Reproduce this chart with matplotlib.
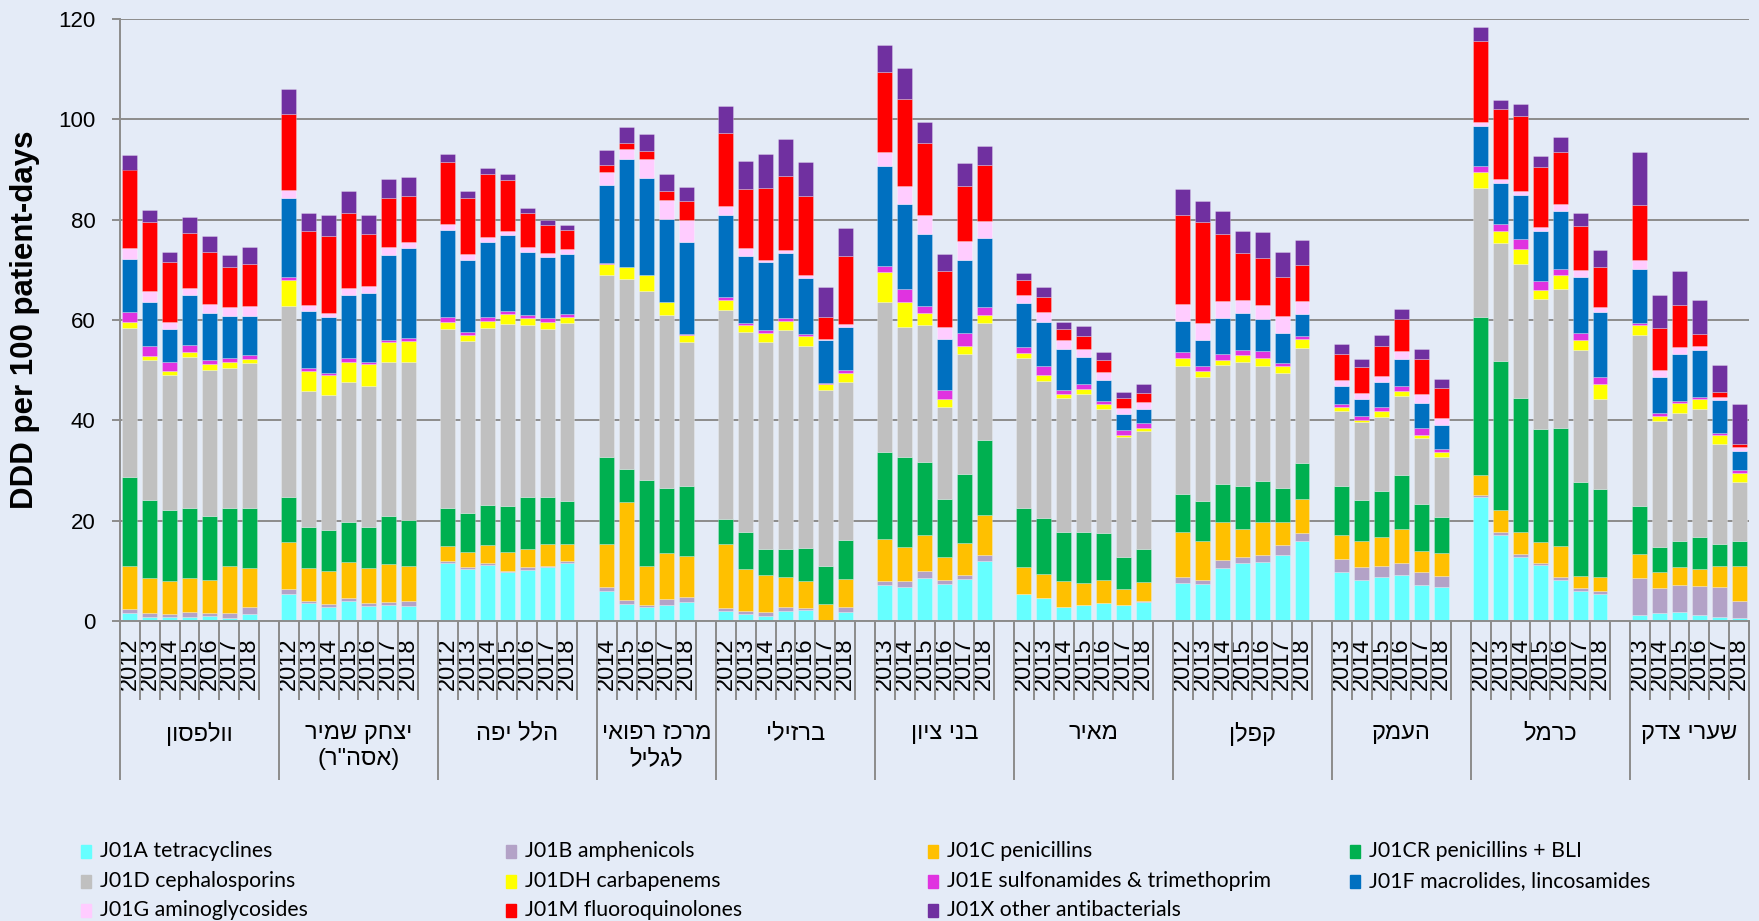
"""Antibacterial use (DDD per 100 patient-days) by hospital and year, stacked by ATC class."""
import numpy as np
import matplotlib; matplotlib.use("Agg"); import matplotlib.pyplot as plt
from matplotlib.patches import Rectangle

W, H = 1759, 921
GREY = "#8C8C8C"
HEB = ["Liberation Sans", "DejaVu Sans"]

# hospitals (logical Hebrew order) and the first year shown for each (all run to 2018)
hospitals = ["וולפסון", "יצחק שמיר\n(אסה\"ר)", "הלל יפה", "מרכז רפואי\nלגליל", "ברזילי",
             "בני ציון", "מאיר", "קפלן", "העמק", "כרמל", "שערי צדק"]
first_year = [2012, 2012, 2012, 2014, 2012, 2013, 2012, 2012, 2013, 2012, 2013]

classes = ["J01A tetracyclines", "J01B amphenicols", "J01C penicillins", "J01CR penicillins + BLI",
           "J01D cephalosporins", "J01DH carbapenems", "J01E sulfonamides & trimethoprim",
           "J01F macrolides, lincosamides", "J01G aminoglycosides", "J01M fluoroquinolones",
           "J01X other antibacterials"]
colors = ["#66FFFF", "#B3A2C7", "#FFC000", "#00B050", "#C0C0C0", "#FFFF00",
          "#E033E0", "#0070C0", "#FFCCFF", "#FF0000", "#7030A0"]

# one value per bar, hospitals in the order above, one line per hospital
J01A = [1.6, 0.8, 0.8, 0.8, 0.9, 0.6, 1.3,
        5.3, 3.5, 2.7, 4.0, 3.0, 3.1, 3.0,
        11.6, 10.4, 11.2, 9.7, 10.2, 10.7, 11.6,
        5.9, 3.4, 2.7, 3.2, 3.7,
        1.9, 1.3, 0.9, 2.0, 2.1, 0.0, 1.7,
        7.1, 6.7, 8.6, 7.3, 8.3, 11.9,
        5.3, 4.5, 2.7, 3.2, 3.5, 3.2, 3.7,
        7.6, 7.3, 10.6, 11.6, 11.7, 13.1, 16.0,
        9.7, 8.1, 8.7, 9.1, 7.2, 6.7,
        24.8, 17.1, 12.8, 11.2, 8.2, 6.0, 5.3,
        1.2, 1.5, 1.8, 1.1, 0.7, 0.5]
J01B = [0.7, 0.7, 0.6, 1.0, 0.7, 0.9, 1.4,
        1.0, 0.4, 0.7, 0.5, 0.6, 0.7, 1.0,
        0.3, 0.3, 0.3, 0.3, 0.5, 0.3, 0.3,
        0.8, 0.7, 0.5, 1.2, 1.0,
        0.7, 0.7, 0.9, 0.7, 0.5, 0.0, 1.0,
        0.9, 1.2, 1.3, 0.8, 0.8, 1.2,
        0.0, 0.0, 0.0, 0.0, 0.0, 0.0, 0.3,
        1.2, 0.9, 1.6, 1.2, 1.4, 2.0, 1.6,
        2.6, 2.7, 2.2, 2.4, 2.5, 2.3,
        0.4, 0.6, 0.5, 0.3, 0.6, 0.5, 0.6,
        7.3, 5.1, 5.3, 5.9, 6.0, 3.4]
J01C = [8.7, 7.1, 6.6, 6.7, 6.6, 9.5, 7.9,
        9.4, 6.6, 6.6, 7.2, 7.0, 7.6, 7.0,
        3.0, 3.0, 3.6, 3.8, 3.6, 4.3, 3.5,
        8.6, 19.6, 7.8, 9.2, 8.3,
        12.7, 8.3, 7.4, 6.1, 5.3, 3.4, 5.7,
        8.3, 6.8, 7.2, 4.7, 6.5, 8.1,
        5.5, 4.8, 5.2, 4.4, 4.6, 3.1, 3.8,
        9.0, 7.8, 7.5, 5.6, 6.6, 4.7, 6.8,
        4.9, 5.1, 5.9, 6.8, 4.3, 4.6,
        3.9, 4.5, 4.4, 4.3, 6.2, 2.5, 2.9,
        4.9, 3.1, 3.7, 3.4, 4.2, 7.0]
J01CR = [17.7, 15.6, 14.1, 14.1, 12.7, 11.6, 11.9,
         9.1, 8.3, 8.1, 8.1, 8.1, 9.5, 9.2,
         7.6, 7.9, 8.1, 9.1, 10.5, 9.5, 8.5,
         17.3, 6.5, 17.1, 13.0, 14.0,
         5.1, 7.4, 5.1, 5.5, 6.6, 7.6, 7.7,
         17.4, 17.9, 14.6, 11.6, 13.8, 14.8,
         11.8, 11.3, 9.8, 10.1, 9.4, 6.4, 6.6,
         7.6, 8.0, 7.7, 8.6, 8.3, 6.8, 7.0,
         9.7, 8.2, 9.2, 10.8, 9.4, 7.2,
         31.5, 29.7, 26.8, 22.4, 23.4, 18.8, 17.6,
         9.5, 5.0, 5.1, 6.3, 4.5, 5.0]
J01D = [29.8, 27.8, 26.9, 30.1, 29.1, 27.9, 28.9,
        37.9, 27.0, 27.0, 27.9, 28.1, 30.8, 31.4,
        35.7, 34.3, 35.3, 36.4, 34.3, 33.5, 35.6,
        36.3, 38.0, 37.6, 34.3, 28.7,
        41.6, 39.9, 41.3, 43.8, 40.4, 35.0, 31.6,
        29.9, 26.1, 27.3, 18.3, 23.9, 23.5,
        29.8, 27.3, 26.8, 27.6, 24.8, 23.9, 23.4,
        25.4, 24.6, 23.6, 24.6, 22.9, 22.9, 23.1,
        15.0, 15.5, 14.7, 15.8, 13.0, 11.9,
        25.7, 23.4, 26.6, 26.0, 27.7, 26.3, 17.8,
        34.2, 25.1, 25.6, 25.6, 19.9, 11.9]
J01DH = [1.1, 0.9, 0.9, 1.0, 1.2, 1.1, 0.9,
         5.3, 4.1, 4.0, 3.9, 4.4, 3.9, 4.2,
         1.4, 1.2, 1.3, 1.8, 1.3, 1.4, 1.0,
         2.3, 2.3, 3.2, 2.6, 1.4,
         1.9, 1.5, 1.8, 1.8, 1.9, 1.3, 1.8,
         5.9, 4.9, 2.3, 1.5, 1.5, 1.4,
         1.0, 1.1, 0.7, 1.0, 0.9, 0.5, 0.6,
         1.6, 1.2, 1.1, 1.4, 1.6, 1.3, 1.7,
         0.8, 0.4, 1.2, 1.0, 0.7, 0.9,
         3.2, 2.4, 3.0, 1.8, 2.8, 2.0, 3.1,
         1.9, 1.1, 1.9, 1.9, 1.8, 1.8]
J01E = [1.9, 1.9, 1.7, 1.3, 0.9, 0.9, 0.7,
        0.5, 0.5, 0.4, 0.8, 0.4, 0.5, 0.6,
        1.0, 0.5, 0.8, 0.7, 0.5, 0.7, 0.6,
        0.1, 0.1, 0.1, 0.1, 0.1,
        0.6, 0.4, 0.7, 0.5, 0.5, 0.1, 0.5,
        1.2, 2.5, 1.4, 1.8, 2.6, 1.6,
        1.2, 1.8, 0.9, 0.9, 0.7, 0.9, 1.0,
        1.3, 1.0, 1.1, 1.1, 1.4, 0.7, 0.6,
        0.6, 0.8, 0.8, 0.9, 1.4, 0.7,
        1.1, 1.4, 2.1, 1.8, 1.2, 1.4, 1.3,
        0.4, 0.5, 0.5, 0.5, 0.4, 0.5]
J01F = [10.7, 8.8, 6.7, 10.0, 9.2, 8.2, 7.7,
        15.9, 11.3, 11.1, 12.6, 13.8, 16.9, 18.0,
        17.3, 14.3, 15.0, 15.2, 12.7, 12.1, 12.1,
        15.7, 21.4, 19.4, 16.5, 18.3,
        16.4, 13.2, 13.4, 12.9, 11.1, 8.6, 8.7,
        20.0, 17.0, 14.5, 10.2, 14.5, 13.8,
        8.8, 8.9, 8.1, 5.5, 4.2, 3.2, 2.9,
        6.1, 5.2, 7.2, 7.2, 6.3, 5.9, 4.3,
        3.5, 3.5, 4.9, 5.5, 4.9, 4.7,
        8.0, 8.2, 8.7, 10.0, 11.6, 11.0, 13.0,
        10.8, 7.2, 9.4, 9.4, 6.5, 3.8]
J01G = [2.1, 2.1, 1.4, 1.4, 1.9, 1.8, 2.1,
        1.6, 1.2, 0.7, 1.3, 1.4, 1.6, 1.1,
        1.3, 1.3, 1.0, 0.7, 0.9, 0.8, 1.0,
        2.6, 2.0, 3.7, 3.8, 4.5,
        1.8, 1.7, 0.5, 0.7, 0.6, 0.3, 0.6,
        2.8, 3.7, 3.7, 2.4, 3.9, 3.4,
        1.6, 1.8, 1.8, 1.5, 1.5, 1.3, 1.4,
        3.4, 3.5, 3.3, 2.7, 2.8, 3.3, 2.7,
        1.3, 1.2, 1.2, 1.5, 1.9, 1.4,
        0.9, 0.8, 0.8, 0.8, 1.4, 1.5, 1.0,
        1.7, 1.4, 1.3, 0.8, 0.7, 0.7]
J01M = [15.7, 13.9, 11.8, 11.0, 10.3, 8.1, 8.4,
        15.1, 14.9, 15.4, 15.1, 10.3, 9.8, 9.3,
        12.3, 11.2, 12.6, 10.3, 6.9, 5.6, 3.7,
        1.3, 1.3, 1.6, 1.9, 3.8,
        14.6, 11.7, 14.4, 14.7, 15.8, 4.2, 13.4,
        15.9, 17.2, 14.4, 11.2, 10.9, 11.2,
        2.9, 3.1, 2.2, 2.7, 2.4, 1.9, 1.8,
        17.8, 20.0, 13.4, 9.3, 9.3, 7.9, 7.2,
        5.2, 5.1, 6.0, 6.4, 6.9, 6.0,
        16.2, 14.0, 15.0, 11.8, 10.4, 8.8, 8.0,
        11.1, 8.5, 8.4, 2.3, 0.9, 0.7]
J01X = [2.8, 2.4, 2.0, 3.1, 3.2, 2.3, 3.3,
        4.9, 3.6, 4.2, 4.4, 3.8, 3.8, 3.8,
        1.6, 1.3, 1.1, 1.1, 1.0, 1.1, 1.1,
        3.0, 3.2, 3.4, 3.4, 2.8,
        5.3, 5.6, 6.6, 7.3, 6.7, 6.1, 5.7,
        5.5, 6.3, 4.2, 3.4, 4.5, 3.7,
        1.4, 1.9, 1.4, 2.0, 1.7, 1.3, 1.7,
        5.1, 4.3, 4.7, 4.5, 5.2, 5.0, 4.9,
        1.9, 1.6, 2.3, 2.0, 2.1, 1.9,
        2.7, 1.7, 2.4, 2.3, 3.0, 2.5, 3.4,
        10.5, 6.5, 6.7, 6.7, 5.5, 7.9]
series = [J01A, J01B, J01C, J01CR, J01D, J01DH, J01E, J01F, J01G, J01M, J01X]


def visual(s):
    # matplotlib has no bidi: flip each line and mirror the brackets
    swap = {"(": ")", ")": "("}
    return "\n".join("".join(swap.get(c, c) for c in line[::-1]) for line in s.split("\n"))


# slot layout: one slot per year, one blank slot after every hospital but the last
centers, years, group_edges, group_mid = [], [], [0], []
pos = 0
for i, fy in enumerate(first_year):
    yrs = list(range(fy, 2019))
    centers += [pos + k + 0.5 for k in range(len(yrs))]
    years += [str(y) for y in yrs]
    n = len(yrs) + (1 if i < len(first_year) - 1 else 0)
    group_mid.append(pos + n / 2)
    pos += n
    group_edges.append(pos)
centers = np.array(centers)

fig = plt.figure(figsize=(W / 100, H / 100), dpi=100, facecolor="#E4EBF7")
ax = fig.add_axes([120 / W, 1 - 621 / H, 1629 / W, 602 / H])
ax.set_facecolor("#E4EBF7")

bottom = np.zeros(len(centers))
for vals, name, c in zip(series, classes, colors):
    vals = np.array(vals)
    ax.bar(centers, vals, 0.75, bottom=bottom, color=c, label=name,
           edgecolor=(1, 1, 1, 0.45), linewidth=0.4)
    bottom += vals

ax.set_xlim(0, pos)
ax.set_ylim(0, 120)
ax.set_yticks(range(0, 121, 20))
ax.yaxis.grid(True, color=GREY, lw=1.4)
ax.set_axisbelow(True)
for s in ("top", "right"):
    ax.spines[s].set_visible(False)
for s in ("left", "bottom"):
    ax.spines[s].set_color(GREY); ax.spines[s].set_linewidth(1.4)
ax.tick_params(axis="y", direction="out", length=5.8, width=1.4, color=GREY, pad=12,
               labelsize=16)
ax.set_xticks(centers, years, rotation=90, fontsize=17)
ax.tick_params(axis="x", length=0, pad=12)
for t in ax.get_xticklabels() + ax.get_yticklabels():
    t.set_fontfamily("Liberation Sans")

# category separators under the axis
tr = ax.get_xaxis_transform()
ax.vlines(np.arange(0, pos + 1), -0.131, 0, transform=tr, color=GREY, lw=1.4, clip_on=False)
ax.vlines(group_edges, -0.264, 0, transform=tr, color=GREY, lw=1.4, clip_on=False)
for name, xm in zip(hospitals, group_mid):
    ax.text(xm, -0.168, visual(name), transform=tr, ha="center", va="top", fontsize=17,
            family=HEB, linespacing=1.25)

fig.text(25 / W, 1 - 320 / H, "DDD per 100 patient-days", rotation=90, ha="center",
         va="center", fontsize=22.5, fontweight="bold", family="Liberation Sans")

# legend laid out on the same grid as the original (row by row)
col_x = [81, 506, 928, 1350]
row_y = [851, 881, 910]
for k, (name, c) in enumerate(zip(classes, colors)):
    x, y = col_x[k % 4], row_y[k // 4]
    fig.add_artist(Rectangle((x / W, 1 - (y + 6.5) / H), 10 / W, 13 / H, color=c,
                             transform=fig.transFigure))
    fig.text((x + 19) / W, 1 - y / H, name, ha="left", va="center", fontsize=15.3,
             family=["Lato", "DejaVu Sans"])

fig.savefig("out.png", dpi=100, facecolor=fig.get_facecolor())
print("saved out.png")
